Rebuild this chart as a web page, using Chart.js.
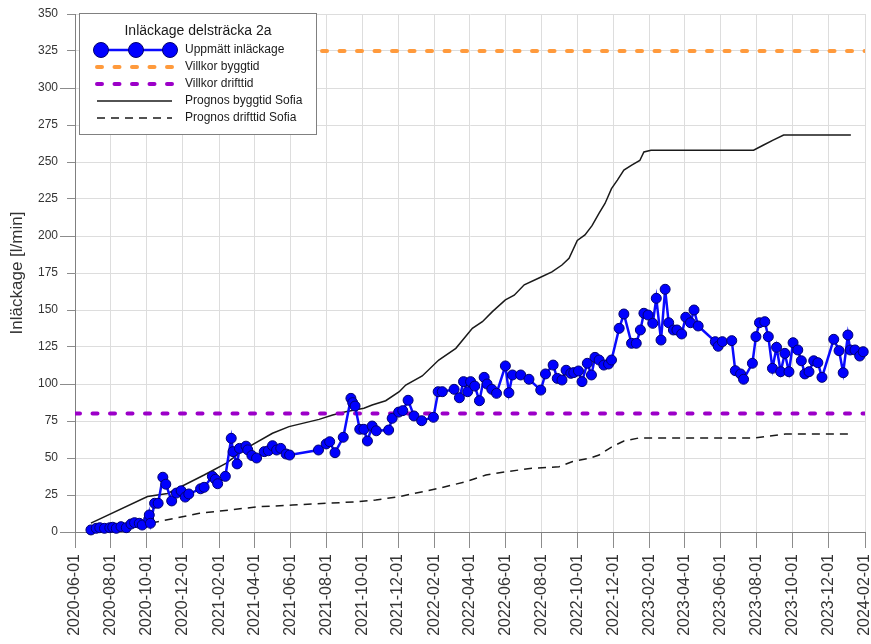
<!DOCTYPE html>
<html>
<head>
<meta charset="utf-8">
<title>Inläckage delsträcka 2a</title>
<script src="https://cdn.jsdelivr.net/npm/chart.js@4.4.0/dist/chart.umd.min.js"></script>
<style>
  html, body { margin: 0; padding: 0; background: #fff; }
  #wrap { width: 871px; height: 644px; }
</style>
</head>
<body>
<div id="wrap"><canvas id="leakChart" width="871" height="644"></canvas></div>
<script>
// measured leakage (Uppmätt inläckage)
const measuredDates = [
  '2020-06-28','2020-07-07','2020-07-13','2020-07-21','2020-07-30','2020-08-04','2020-08-10','2020-08-18',
  '2020-08-27','2020-09-04','2020-09-10','2020-09-18','2020-09-23','2020-10-04','2020-10-05','2020-10-07',
  '2020-10-14','2020-10-20','2020-10-28','2020-11-02','2020-11-12','2020-11-20','2020-11-28','2020-12-05',
  '2020-12-11','2020-12-31','2021-01-06','2021-01-20','2021-01-25','2021-01-29','2021-02-11','2021-02-21',
  '2021-02-24','2021-03-03','2021-03-07','2021-03-18','2021-03-21','2021-03-28','2021-04-05','2021-04-18',
  '2021-04-25','2021-05-02','2021-05-09','2021-05-16','2021-05-25','2021-05-31','2021-07-19','2021-08-01',
  '2021-08-07','2021-08-16','2021-08-30','2021-09-12','2021-09-15','2021-09-19','2021-09-27','2021-10-04',
  '2021-10-10','2021-10-18','2021-10-25','2021-11-15','2021-11-21','2021-12-02','2021-12-09','2021-12-18',
  '2021-12-28','2022-01-10','2022-01-30','2022-02-07','2022-02-14','2022-03-06','2022-03-15','2022-03-22',
  '2022-03-29','2022-04-03','2022-04-10','2022-04-18','2022-04-26','2022-05-01','2022-05-09','2022-05-17',
  '2022-06-01','2022-06-07','2022-06-13','2022-06-27','2022-07-11','2022-07-31','2022-08-08','2022-08-21',
  '2022-08-28','2022-09-05','2022-09-12','2022-09-20','2022-09-25','2022-10-03','2022-10-09','2022-10-18',
  '2022-10-25','2022-10-31','2022-11-07','2022-11-15','2022-11-23','2022-11-28','2022-12-11','2022-12-19',
  '2023-01-01','2023-01-09','2023-01-16','2023-01-22','2023-01-29','2023-02-06','2023-02-12','2023-02-20',
  '2023-02-27','2023-03-05','2023-03-13','2023-03-19','2023-03-27','2023-04-03','2023-04-11','2023-04-17',
  '2023-04-24','2023-05-23','2023-05-28','2023-06-04','2023-06-20','2023-06-26','2023-07-05','2023-07-10',
  '2023-07-25','2023-07-31','2023-08-06','2023-08-15','2023-08-21','2023-08-28','2023-09-04','2023-09-11',
  '2023-09-18','2023-09-25','2023-10-02','2023-10-10','2023-10-16','2023-10-22','2023-10-29','2023-11-06',
  '2023-11-13','2023-11-20','2023-12-10','2023-12-19','2023-12-26','2024-01-03','2024-01-07','2024-01-15',
  '2024-01-23','2024-01-29'
];
const measuredValues = [
  1.4, 2.5, 2.9, 2.5, 2.9, 3.2, 2.5, 3.6,
  2.9, 5.4, 6.3, 5.9, 4.7, 8.6, 11.5, 5.9,
  19.4, 19.4, 37, 32.3, 21, 26.3, 27.8, 23.6,
  25.7, 29.2, 30.2, 37.6, 35.6, 32.6, 37.6, 63.3,
  54.3, 46, 56.5, 58, 55.5, 51.7, 50, 54.3,
  54.9, 58.3, 55.4, 56.5, 52.7, 52, 55.4, 59.5,
  61, 53.6, 64, 90.3, 87.4, 85.1, 69.4, 69.4,
  61.5, 71.6, 68.4, 68.9, 76.8, 81, 82, 89,
  78.4, 75.2, 77.5, 94.8, 94.8, 96.4, 90.7, 101.6,
  94.8, 101.6, 98.6, 88.7, 104.5, 100, 96.4, 93.7,
  112.2, 94.1, 106.1, 106.1, 103.2, 95.9, 106.8, 112.8,
  103.8, 102.7, 109.3, 107.2, 107.7, 108.8, 101.6, 114,
  106.1, 118, 116.2, 112.8, 113.5, 116.2, 137.6, 147.3,
  127.5, 127.5, 136.5, 147.8, 146.6, 141, 157.9, 129.7,
  164, 141.4, 136.5, 136.5, 133.8, 145.1, 141.4, 150,
  139.2, 128.6, 125.5, 128.6, 129.3, 109, 106.8, 103.2,
  114, 132, 141.4, 142.1, 132, 110.6, 124.8, 108.3,
  120.7, 108.3, 127.9, 123, 115.7, 106.8, 108.3, 115.7,
  114.4, 104.5, 130.2, 122.5, 107.6, 133.1, 123, 123,
  118.9, 121.8
];

// limits (Villkor)
const villkorByggtidDates = ['2021-07-25', '2024-02-01'];
const villkorByggtidValues = [325, 325];
const villkorDrifttidDates = ['2020-06-01', '2024-02-01'];
const villkorDrifttidValues = [80, 80];

// forecasts (Prognos Sofia)
const prognosByggtidDates = [
  '2020-06-28','2020-10-02','2020-11-05','2021-01-06','2021-02-12','2021-03-18','2021-05-02','2021-05-30',
  '2021-07-20','2021-08-12','2021-09-03','2021-10-04','2021-10-18','2021-11-10','2021-12-03','2021-12-14',
  '2022-01-11','2022-02-08','2022-03-09','2022-04-06','2022-04-23','2022-05-10','2022-06-01','2022-06-16',
  '2022-07-03','2022-07-28','2022-08-19','2022-09-05','2022-09-17','2022-10-01','2022-10-14','2022-10-26',
  '2022-11-07','2022-11-17','2022-11-28','2022-12-08','2022-12-19','2023-01-02','2023-01-15','2023-01-22',
  '2023-02-03','2023-07-27','2023-08-13','2023-08-30','2023-09-16','2024-01-08'
];
const prognosByggtidValues = [
  6, 24, 26, 38.5, 46.4, 56.5, 66.7, 71.2,
  76.1, 79, 81.3, 83.6, 85.8, 88.7, 94.8, 99.3,
  105.4, 116.2, 124.1, 137.6, 142.1, 148.9, 156.8, 160,
  167, 171.6, 175.7, 180.4, 185, 197, 200.7, 207,
  215.5, 222, 232, 237.8, 244.6, 248, 251, 256.8,
  258, 258, 261.5, 264.9, 268.2, 268.2
];
const prognosDrifttidDates = [
  '2020-10-08','2020-12-29','2021-04-09','2021-06-05','2021-09-26','2021-10-24','2021-12-03','2022-02-08',
  '2022-03-26','2022-04-29','2022-06-01','2022-07-16','2022-08-31','2022-09-22','2022-10-21','2022-11-07',
  '2022-11-28','2022-12-19','2023-01-13','2023-07-27','2023-08-16','2023-09-19','2024-01-10'
];
const prognosDrifttidValues = [
  6, 12.6, 17.1, 18.2, 20.5, 21.6, 23.9, 29.5,
  34, 38.5, 40.7, 43, 44.1, 47.5, 49.8, 52,
  57.4, 61.5, 63.5, 63.5, 64.4, 66.2, 66.2
];

// axis
const xTickLabels = [
  '2020-06-01','2020-08-01','2020-10-01','2020-12-01','2021-02-01','2021-04-01','2021-06-01','2021-08-01',
  '2021-10-01','2021-12-01','2022-02-01','2022-04-01','2022-06-01','2022-08-01','2022-10-01','2022-12-01',
  '2023-02-01','2023-04-01','2023-06-01','2023-08-01','2023-10-01','2023-12-01','2024-02-01'
];
const yMajorTicks = [0, 100, 200, 300];

const FONT = '"Liberation Sans", Arial, sans-serif';

function toTime(s) {
  const [y, m, d] = s.split('-').map(Number);
  return Date.UTC(y, m - 1, d);
}

function fmtDate(v) {
  const d = new Date(v);
  return d.getUTCFullYear() + '-' + String(d.getUTCMonth() + 1).padStart(2, '0') + '-' +
    String(d.getUTCDate()).padStart(2, '0');
}

function points(dates, values) {
  return dates.map((d, i) => ({ x: toTime(d), y: values[i] }));
}

// longer tick marks on every 100
const majorTicks = {
  id: 'majorTicks',
  afterDraw(chart) {
    const y = chart.scales.y;
    const ctx = chart.ctx;
    ctx.save();
    ctx.strokeStyle = '#8c8c8c';
    ctx.lineWidth = 1;
    yMajorTicks.forEach(v => {
      const py = Math.round(y.getPixelForValue(v)) + 0.5;
      ctx.beginPath();
      ctx.moveTo(y.right - 15, py);
      ctx.lineTo(y.right - 8, py);
      ctx.stroke();
    });
    ctx.restore();
  }
};

// boxed legend with title, top left inside plot
const legendBox = {
  id: 'legendBox',
  afterDraw(chart) {
    const ctx = chart.ctx;
    const rows = [50, 67, 84, 101, 118];
    ctx.save();
    ctx.fillStyle = '#ffffff';
    ctx.strokeStyle = '#808080';
    ctx.lineWidth = 1;
    ctx.fillRect(79.5, 13.5, 237, 121);
    ctx.strokeRect(79.5, 13.5, 237, 121);

    ctx.fillStyle = '#1a1a1a';
    ctx.font = '14px ' + FONT;
    ctx.textAlign = 'center';
    ctx.textBaseline = 'middle';
    ctx.fillText('Inläckage delsträcka 2a', 198, 31);

    ctx.font = '12px ' + FONT;
    ctx.textAlign = 'left';
    chart.data.datasets.forEach((ds, i) => {
      const y = rows[i];
      ctx.save();
      ctx.strokeStyle = ds.borderColor;
      ctx.lineWidth = ds.borderWidth;
      ctx.lineCap = ds.borderCapStyle || 'butt';
      ctx.setLineDash(ds.borderDash || []);
      ctx.beginPath();
      if (ds.pointRadius > 0) {
        ctx.moveTo(101, y);
        ctx.lineTo(170, y);
      } else {
        ctx.moveTo(97, y);
        ctx.lineTo(172, y);
      }
      ctx.stroke();
      ctx.setLineDash([]);
      if (ds.pointRadius > 0) {
        [101, 136, 170].forEach(px => {
          ctx.beginPath();
          ctx.arc(px, y, 7.5, 0, Math.PI * 2);
          ctx.fillStyle = ds.pointBackgroundColor;
          ctx.fill();
          ctx.lineWidth = 1;
          ctx.strokeStyle = ds.pointBorderColor;
          ctx.stroke();
        });
      }
      ctx.restore();
      ctx.fillText(ds.label, 185, y);
    });
    ctx.restore();
  }
};

Chart.defaults.font.family = FONT;

new Chart(document.getElementById('leakChart'), {
  type: 'line',
  data: {
    datasets: [
      {
        label: 'Uppmätt inläckage',
        data: points(measuredDates, measuredValues),
        borderColor: '#0a0aff',
        borderWidth: 2.5,
        pointRadius: 5,
        pointBackgroundColor: '#0000ff',
        pointBorderColor: '#000070',
        pointBorderWidth: 1,
        clip: false
      },
      {
        label: 'Villkor byggtid',
        data: points(villkorByggtidDates, villkorByggtidValues),
        borderColor: '#ff9a3c',
        borderWidth: 4,
        borderDash: [5, 12.5],
        borderCapStyle: 'round',
        pointRadius: 0
      },
      {
        label: 'Villkor drifttid',
        data: points(villkorDrifttidDates, villkorDrifttidValues),
        borderColor: '#9c00c8',
        borderWidth: 4,
        borderDash: [5, 12.5],
        borderCapStyle: 'round',
        pointRadius: 0
      },
      {
        label: 'Prognos byggtid Sofia',
        data: points(prognosByggtidDates, prognosByggtidValues),
        borderColor: '#1a1a1a',
        borderWidth: 1.5,
        pointRadius: 0
      },
      {
        label: 'Prognos drifttid Sofia',
        data: points(prognosDrifttidDates, prognosDrifttidValues),
        borderColor: '#1a1a1a',
        borderWidth: 1.5,
        borderDash: [8, 6],
        pointRadius: 0
      }
    ]
  },
  options: {
    responsive: false,
    animation: false,
    events: [],
    layout: { padding: { top: 14, right: 5, left: 0, bottom: 0 } },
    plugins: {
      legend: { display: false },
      tooltip: { enabled: false }
    },
    scales: {
      x: {
        type: 'linear',
        min: toTime(xTickLabels[0]),
        max: toTime(xTickLabels[xTickLabels.length - 1]),
        afterBuildTicks: (scale) => {
          scale.ticks = xTickLabels.map(s => ({ value: toTime(s) }));
        },
        afterFit: (scale) => {
          scale.height = 112;
          scale.paddingLeft = 0;
          scale.paddingRight = 0;
        },
        ticks: {
          autoSkip: false,
          minRotation: 90,
          maxRotation: 90,
          padding: 6,
          color: '#333',
          font: { size: 16 },
          callback: (v) => fmtDate(v)
        },
        grid: { color: '#dddddd', tickColor: '#8c8c8c', tickLength: 16 },
        border: { color: '#808080' }
      },
      y: {
        min: 0,
        max: 350,
        afterFit: (scale) => {
          scale.width = 75;
          scale.paddingTop = 0;
          scale.paddingBottom = 0;
        },
        ticks: {
          stepSize: 25,
          padding: 9,
          color: '#333',
          font: { size: 12 }
        },
        grid: { color: '#dddddd', tickColor: '#8c8c8c', tickLength: 8 },
        border: { color: '#808080' },
        title: {
          display: true,
          text: 'Inläckage [l/min]',
          color: '#333',
          font: { size: 17 },
          padding: { top: 7, bottom: 0 }
        }
      }
    }
  },
  plugins: [majorTicks, legendBox]
});
</script>
</body>
</html>
